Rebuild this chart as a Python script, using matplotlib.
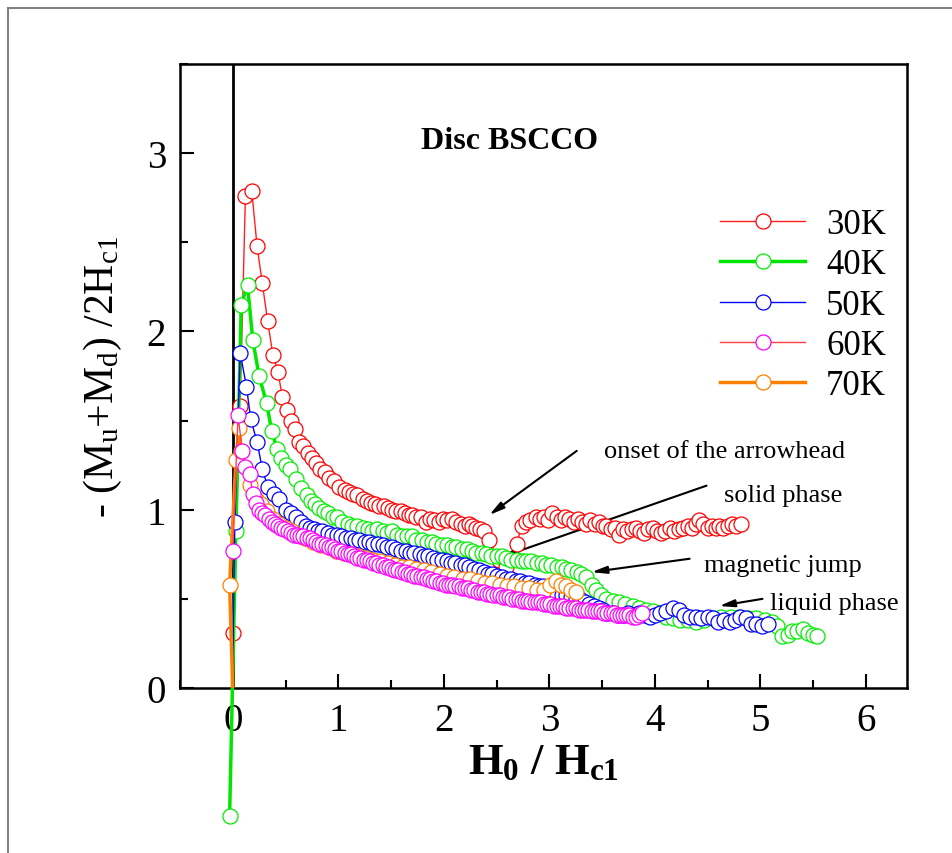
#!/usr/bin/env python3
import numpy as np
import matplotlib
matplotlib.use("Agg")
import matplotlib.pyplot as plt
from matplotlib.lines import Line2D
from matplotlib.patches import Rectangle

plt.rcParams['font.family'] = ['Liberation Serif', 'DejaVu Serif']
plt.rcParams['mathtext.fontset'] = 'custom'
plt.rcParams['mathtext.rm'] = 'Liberation Serif'
plt.rcParams['mathtext.it'] = 'Liberation Serif:italic'
plt.rcParams['mathtext.bf'] = 'Liberation Serif:bold'

# Data (H0/Hc1, -(Mu+Md)/2Hc1)
x_30 = [0.00, 0.07, 0.12, 0.18, 0.23, 0.28, 0.33, 0.38, 0.43, 0.47, 0.51, 0.55, 0.59, 0.63, 0.67,
        0.71, 0.75, 0.79, 0.83, 0.87, 0.91, 0.96, 1.01, 1.06, 1.10, 1.14, 1.18, 1.23, 1.27, 1.31,
        1.35, 1.39, 1.43, 1.47, 1.51, 1.55, 1.59, 1.63, 1.67, 1.70, 1.74, 1.78, 1.83, 1.87, 1.91,
        1.95, 1.99, 2.03, 2.08, 2.12, 2.16, 2.20, 2.24, 2.27, 2.31, 2.34, 2.38, 2.43, 2.52, 2.59,
        2.69, 2.74, 2.78, 2.82, 2.87, 2.91, 2.95, 2.99, 3.03, 3.07, 3.11, 3.15, 3.19, 3.23, 3.27,
        3.31, 3.35, 3.39, 3.43, 3.47, 3.51, 3.54, 3.58, 3.62, 3.66, 3.70, 3.74, 3.78, 3.82, 3.86,
        3.90, 3.94, 3.98, 4.02, 4.06, 4.10, 4.14, 4.18, 4.23, 4.27, 4.31, 4.35, 4.39, 4.42, 4.46,
        4.50, 4.54, 4.58, 4.61, 4.65, 4.69, 4.73, 4.77, 4.82]
y_30 = [0.31, 1.58, 2.76, 2.79, 2.48, 2.27, 2.06, 1.87, 1.77, 1.63, 1.56, 1.50, 1.45, 1.38, 1.36,
        1.32, 1.29, 1.26, 1.23, 1.21, 1.18, 1.16, 1.13, 1.11, 1.10, 1.09, 1.08, 1.06, 1.05, 1.04,
        1.03, 1.02, 1.02, 1.01, 1.00, 0.99, 0.99, 0.98, 0.97, 0.97, 0.96, 0.96, 0.93, 0.95, 0.94,
        0.93, 0.95, 0.94, 0.95, 0.93, 0.92, 0.91, 0.92, 0.91, 0.90, 0.89, 0.88, 0.83, 0.72, 0.68,
        0.81, 0.91, 0.93, 0.94, 0.96, 0.95, 0.96, 0.94, 0.98, 0.96, 0.94, 0.96, 0.95, 0.93, 0.95,
        0.93, 0.92, 0.94, 0.92, 0.93, 0.91, 0.91, 0.89, 0.90, 0.86, 0.89, 0.88, 0.89, 0.90, 0.88,
        0.87, 0.89, 0.90, 0.88, 0.87, 0.88, 0.90, 0.88, 0.89, 0.90, 0.91, 0.90, 0.92, 0.94, 0.92,
        0.90, 0.91, 0.90, 0.91, 0.90, 0.91, 0.92, 0.91, 0.92]

x_40 = [-0.03, 0.03, 0.08, 0.14, 0.19, 0.25, 0.32, 0.37, 0.42, 0.46, 0.50, 0.54, 0.60, 0.65, 0.70,
        0.74, 0.78, 0.82, 0.86, 0.90, 0.95, 0.99, 1.04, 1.09, 1.13, 1.18, 1.23, 1.28, 1.32, 1.37,
        1.42, 1.46, 1.51, 1.56, 1.60, 1.65, 1.70, 1.74, 1.79, 1.84, 1.89, 1.93, 1.98, 2.03, 2.08,
        2.12, 2.17, 2.22, 2.27, 2.31, 2.36, 2.40, 2.45, 2.50, 2.55, 2.59, 2.64, 2.69, 2.74, 2.78,
        2.83, 2.88, 2.93, 2.97, 3.02, 3.07, 3.12, 3.16, 3.21, 3.26, 3.30, 3.35, 3.40, 3.44, 3.49,
        3.54, 3.60, 3.66, 3.72, 3.79, 3.85, 3.92, 3.98, 4.05, 4.11, 4.17, 4.24, 4.31, 4.39, 4.47,
        4.55, 4.63, 4.72, 4.80, 4.88, 4.96, 5.04, 5.11, 5.16, 5.21, 5.26, 5.30, 5.35, 5.40, 5.45,
        5.50, 5.54]
y_40 = [-0.72, 0.88, 2.15, 2.26, 1.95, 1.75, 1.60, 1.44, 1.34, 1.29, 1.25, 1.23, 1.17, 1.12, 1.08,
        1.05, 1.03, 1.01, 0.99, 0.98, 0.96, 0.96, 0.93, 0.92, 0.91, 0.91, 0.90, 0.89, 0.88, 0.89,
        0.88, 0.87, 0.88, 0.86, 0.85, 0.85, 0.85, 0.83, 0.83, 0.82, 0.82, 0.81, 0.80, 0.80, 0.79,
        0.79, 0.78, 0.78, 0.77, 0.76, 0.76, 0.75, 0.74, 0.74, 0.74, 0.73, 0.72, 0.72, 0.71, 0.71,
        0.71, 0.70, 0.70, 0.69, 0.69, 0.68, 0.68, 0.67, 0.66, 0.65, 0.64, 0.62, 0.58, 0.55, 0.52,
        0.50, 0.49, 0.48, 0.47, 0.46, 0.45, 0.44, 0.43, 0.42, 0.40, 0.39, 0.38, 0.38, 0.37, 0.38,
        0.39, 0.40, 0.40, 0.40, 0.39, 0.39, 0.38, 0.37, 0.35, 0.29, 0.30, 0.32, 0.32, 0.33, 0.31,
        0.30, 0.29]

x_50 = [-0.01, 0.02, 0.07, 0.13, 0.17, 0.23, 0.28, 0.33, 0.39, 0.44, 0.50, 0.55, 0.60, 0.65, 0.69,
        0.73, 0.77, 0.81, 0.85, 0.90, 0.94, 0.99, 1.03, 1.07, 1.12, 1.16, 1.20, 1.25, 1.29, 1.33,
        1.38, 1.42, 1.46, 1.51, 1.55, 1.59, 1.64, 1.68, 1.72, 1.77, 1.81, 1.85, 1.90, 1.94, 1.98,
        2.03, 2.07, 2.11, 2.16, 2.20, 2.24, 2.29, 2.33, 2.38, 2.42, 2.46, 2.50, 2.55, 2.59, 2.64,
        2.68, 2.72, 2.77, 2.81, 2.86, 2.90, 2.94, 2.99, 3.03, 3.07, 3.12, 3.16, 3.21, 3.25, 3.29,
        3.34, 3.38, 3.42, 3.47, 3.51, 3.55, 3.60, 3.65, 3.70, 3.75, 3.80, 3.85, 3.90, 3.95, 4.00,
        4.05, 4.11, 4.17, 4.23, 4.28, 4.33, 4.39, 4.44, 4.50, 4.55, 4.60, 4.66, 4.71, 4.76, 4.81,
        4.86, 4.91, 4.96, 5.02, 5.07]
y_50 = [-0.30, 0.93, 1.88, 1.69, 1.51, 1.38, 1.23, 1.13, 1.09, 1.06, 1.00, 0.98, 0.96, 0.93, 0.91,
        0.90, 0.89, 0.88, 0.88, 0.87, 0.86, 0.86, 0.85, 0.84, 0.84, 0.83, 0.83, 0.82, 0.82, 0.81,
        0.81, 0.80, 0.79, 0.79, 0.78, 0.77, 0.77, 0.76, 0.76, 0.75, 0.74, 0.74, 0.73, 0.72, 0.72,
        0.71, 0.70, 0.70, 0.69, 0.69, 0.68, 0.67, 0.66, 0.65, 0.64, 0.64, 0.63, 0.62, 0.61, 0.61,
        0.60, 0.60, 0.59, 0.59, 0.58, 0.57, 0.57, 0.55, 0.54, 0.53, 0.52, 0.52, 0.51, 0.50, 0.50,
        0.48, 0.47, 0.46, 0.45, 0.44, 0.42, 0.42, 0.41, 0.41, 0.42, 0.41, 0.42, 0.41, 0.40, 0.41,
        0.42, 0.43, 0.45, 0.44, 0.41, 0.40, 0.40, 0.39, 0.40, 0.39, 0.37, 0.38, 0.37, 0.38, 0.40,
        0.39, 0.36, 0.36, 0.35, 0.36]

x_60 = [0.00, 0.05, 0.09, 0.12, 0.16, 0.19, 0.22, 0.25, 0.28, 0.31, 0.34, 0.37, 0.40, 0.43, 0.46,
        0.49, 0.52, 0.55, 0.58, 0.61, 0.64, 0.67, 0.70, 0.73, 0.76, 0.79, 0.82, 0.85, 0.88, 0.91,
        0.94, 0.97, 1.00, 1.03, 1.06, 1.09, 1.12, 1.15, 1.18, 1.21, 1.24, 1.27, 1.30, 1.33, 1.36,
        1.39, 1.42, 1.45, 1.48, 1.51, 1.54, 1.57, 1.60, 1.63, 1.66, 1.69, 1.72, 1.75, 1.78, 1.81,
        1.84, 1.87, 1.90, 1.93, 1.96, 1.99, 2.02, 2.05, 2.08, 2.11, 2.14, 2.17, 2.20, 2.23, 2.26,
        2.29, 2.32, 2.35, 2.38, 2.41, 2.44, 2.47, 2.50, 2.53, 2.56, 2.59, 2.62, 2.65, 2.68, 2.71,
        2.74, 2.77, 2.80, 2.83, 2.86, 2.89, 2.92, 2.95, 2.98, 3.01, 3.04, 3.07, 3.10, 3.13, 3.16,
        3.19, 3.22, 3.25, 3.28, 3.31, 3.34, 3.37, 3.40, 3.43, 3.46, 3.49, 3.52, 3.55, 3.58, 3.61,
        3.64, 3.67, 3.70, 3.73, 3.76, 3.79, 3.82, 3.85, 3.88]
y_60 = [0.77, 1.53, 1.33, 1.24, 1.20, 1.09, 1.04, 1.00, 0.98, 0.97, 0.95, 0.93, 0.92, 0.91, 0.90,
        0.89, 0.88, 0.87, 0.86, 0.86, 0.85, 0.85, 0.84, 0.84, 0.83, 0.82, 0.81, 0.81, 0.80, 0.79,
        0.79, 0.78, 0.77, 0.77, 0.76, 0.75, 0.75, 0.74, 0.73, 0.73, 0.72, 0.72, 0.71, 0.70, 0.70,
        0.69, 0.69, 0.68, 0.68, 0.67, 0.66, 0.66, 0.65, 0.65, 0.64, 0.64, 0.63, 0.63, 0.62, 0.62,
        0.61, 0.61, 0.60, 0.60, 0.59, 0.59, 0.58, 0.58, 0.58, 0.57, 0.57, 0.56, 0.56, 0.56, 0.55,
        0.55, 0.54, 0.54, 0.54, 0.53, 0.53, 0.52, 0.52, 0.52, 0.51, 0.51, 0.51, 0.50, 0.50, 0.50,
        0.49, 0.49, 0.49, 0.48, 0.48, 0.48, 0.48, 0.47, 0.47, 0.47, 0.46, 0.46, 0.46, 0.46, 0.45,
        0.45, 0.45, 0.45, 0.44, 0.44, 0.44, 0.44, 0.43, 0.43, 0.43, 0.43, 0.42, 0.42, 0.42, 0.42,
        0.41, 0.41, 0.41, 0.41, 0.41, 0.40, 0.40, 0.41, 0.42]

x_70 = [0.01, -0.03, 0.03, 0.06, 0.08, 0.16, 0.22, 0.27, 0.32, 0.38, 0.44, 0.50, 0.56, 0.62, 0.68,
        0.76, 0.84, 0.91, 0.98, 1.05, 1.12, 1.19, 1.26, 1.33, 1.40, 1.47, 1.54, 1.60, 1.67, 1.74,
        1.81, 1.88, 1.96, 2.03, 2.10, 2.18, 2.25, 2.32, 2.39, 2.46, 2.53, 2.60, 2.67, 2.74, 2.81,
        2.88, 2.95, 3.01, 3.06, 3.11, 3.16, 3.21, 3.25]
y_70 = [-0.20, 0.58, 1.28, 1.46, 1.33, 1.14, 1.06, 1.03, 0.99, 0.95, 0.92, 0.90, 0.88, 0.86, 0.84,
        0.82, 0.80, 0.79, 0.77, 0.76, 0.75, 0.74, 0.73, 0.72, 0.71, 0.70, 0.69, 0.68, 0.68, 0.67,
        0.66, 0.65, 0.64, 0.63, 0.62, 0.61, 0.61, 0.60, 0.59, 0.59, 0.58, 0.57, 0.57, 0.56, 0.56,
        0.55, 0.55, 0.58, 0.60, 0.58, 0.57, 0.55, 0.54]

labels = ["30K", "40K", "50K", "60K", "70K"]

# Figure, sized in pixels like the original screenshot
fig = plt.figure(figsize=(9.52, 8.54), dpi=100)
ax = fig.add_axes([180/952, 165/854, 727/952, 624/854])

# Thin grey frame around the whole picture
fig.patches.append(Rectangle((8/952, -0.05), 1.1, 1.05 - 9/854, transform=fig.transFigure,
                             fill=False, edgecolor='grey', linewidth=1.5))

ms = 10.8
mew = 0.9
# (x, y, line colour, marker colour, line width, z-order)
series = [
    (x_30, y_30, '#ff2020', '#ff0000', 1.0, 3),
    (x_40, y_40, '#00e600', '#00ee00', 2.5, 4),
    (x_50, y_50, '#0000ff', '#0000ff', 1.0, 5),
    (x_60, y_60, '#ff4040', '#ff00ff', 1.0, 7),
    (x_70, y_70, '#ff8000', '#ff8000', 2.5, 6),
]

handles = []
for (xs, ys, lc, mc, lw, z), lab in zip(series, labels):
    ax.plot(xs, ys, '-', color=lc, lw=lw, zorder=z, clip_on=(lab != "40K"))
    ax.plot(xs, ys, 'o', ms=ms, mfc='white', mec=mc, mew=mew, zorder=z + 0.5,
            clip_on=(lab != "40K"))
    handles.append(Line2D([], [], color=lc, lw=lw, marker='o', ms=ms, mfc='white',
                          mec=mc, mew=mew))

# Vertical line at H0 = 0
ax.axvline(0, color='black', lw=2, zorder=2)

ax.set_xlim(-0.5, 6.39)
ax.set_ylim(0, 3.5)
ax.set_xticks(np.arange(0, 7, 1))
ax.set_xticks(np.arange(-0.5, 6.5, 0.5), minor=True)
ax.set_yticks(np.arange(0, 4, 1))
ax.set_yticks(np.arange(0, 3.6, 0.5), minor=True)
ax.tick_params(which='both', direction='in', top=False, right=False, width=1.5)
ax.tick_params(which='major', length=10, labelsize=28, pad=10)
ax.tick_params(which='minor', length=6)
for sp in ax.spines.values():
    sp.set_linewidth(1.8)

ax.set_xlabel(r'H$_\mathbf{0}$ / H$_\mathbf{c1}$', fontsize=32, fontweight='bold', labelpad=2)
ax.set_ylabel(r'- (M$_\mathrm{u}$+M$_\mathrm{d}$) /2H$_\mathrm{c1}$', fontsize=30, labelpad=16)

ax.text(2.62, 3.07, 'Disc BSCCO', fontsize=23, fontweight='bold', ha='center', va='center')

# Annotations with arrows
arrow = dict(arrowstyle='-|>,head_length=0.9,head_width=0.22', color='black', lw=1.5,
             shrinkA=0, shrinkB=0)
ax.annotate('', xy=(2.43, 0.97), xytext=(3.26, 1.33), arrowprops=arrow)
ax.annotate('', xy=(2.55, 0.735), xytext=(4.49, 1.135), arrowprops=arrow)
ax.annotate('', xy=(3.40, 0.65), xytext=(4.33, 0.725), arrowprops=arrow)
ax.annotate('', xy=(4.61, 0.46), xytext=(5.02, 0.50), arrowprops=arrow)
ax.text(3.52, 1.298, 'onset of the arrowhead', fontsize=19, va='baseline')
ax.text(4.66, 1.051, 'solid phase', fontsize=19, va='baseline')
ax.text(4.47, 0.657, 'magnetic jump', fontsize=19, va='baseline')
ax.text(5.09, 0.444, 'liquid phase', fontsize=19, va='baseline')

ax.legend(handles, labels, loc='upper left', bbox_to_anchor=(0.743, 0.769), frameon=False,
          fontsize=25, handlelength=2.45, handletextpad=0.6, labelspacing=0.21,
          borderpad=0, borderaxespad=0)

fig.savefig('out.png', dpi=100)
